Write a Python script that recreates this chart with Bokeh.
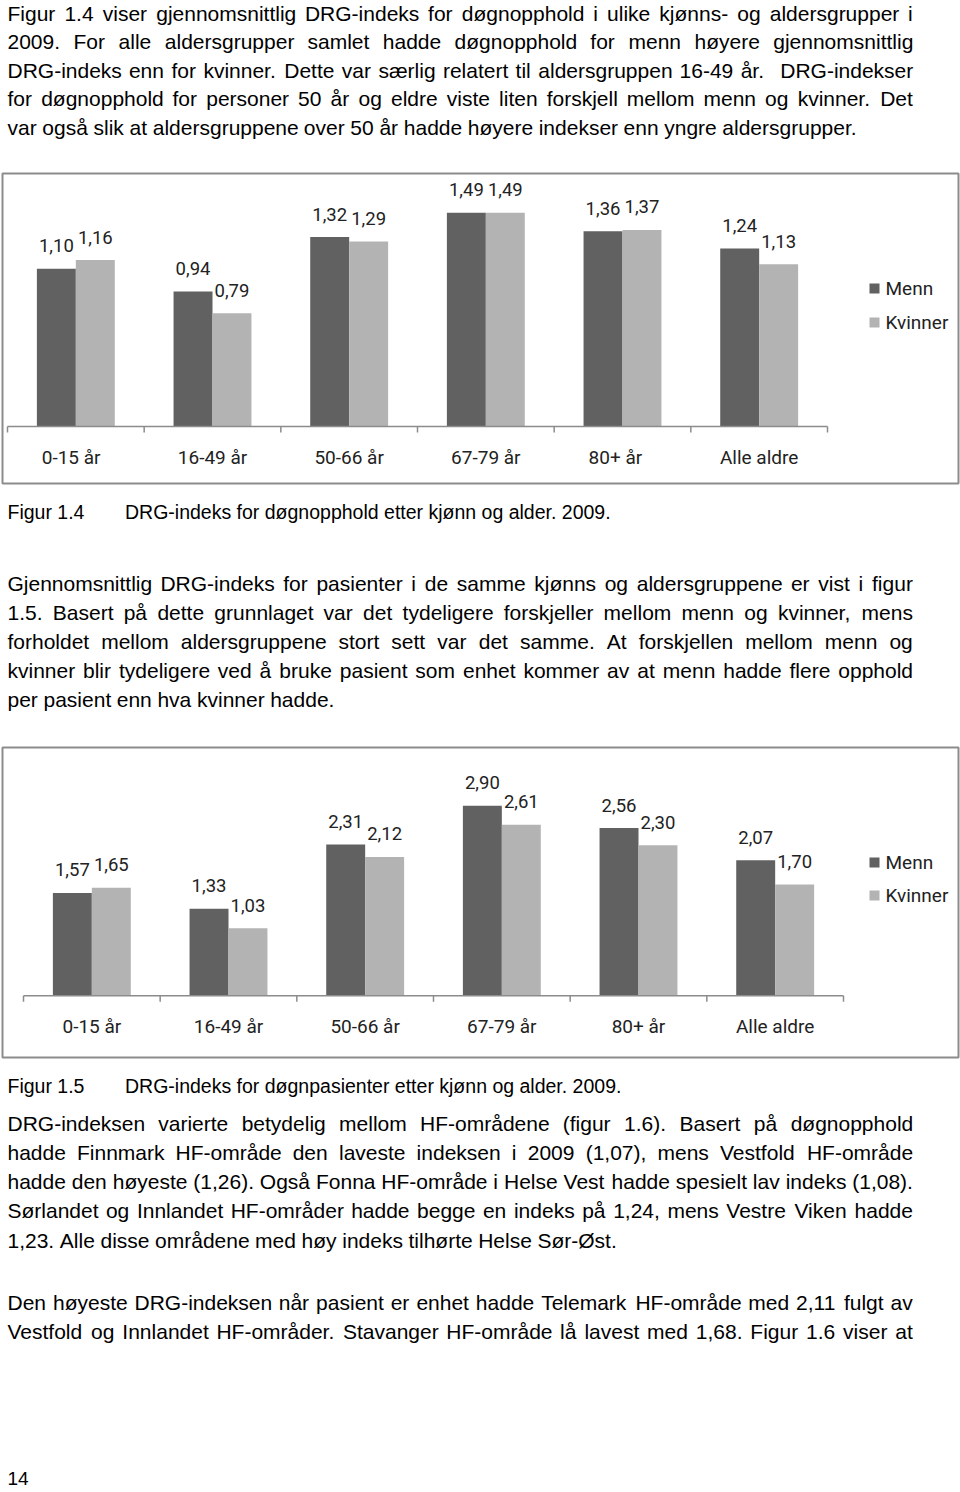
import math
from bokeh.plotting import figure
from bokeh.models import Range1d, ColumnDataSource
from bokeh.layouts import column
from bokeh.core.properties import value
from bokeh.transform import dodge
from bokeh.embed import file_html
from bokeh.resources import INLINE

# ---------------- data ----------------
age_groups_fig14 = ["0-15   år", "16-49 år", "50-66 år", "67-79 år", "80+    år", "Alle aldre"]
menn_fig14 = [1.10, 0.94, 1.32, 1.49, 1.36, 1.24]
kvinner_fig14 = [1.16, 0.79, 1.29, 1.49, 1.37, 1.13]

age_groups_fig15 = ["0-15 år", "16-49 år", "50-66 år", "67-79 år", "80+ år", "Alle aldre"]
menn_fig15 = [1.57, 1.33, 2.31, 2.90, 2.56, 2.07]
kvinner_fig15 = [1.65, 1.03, 2.12, 2.61, 2.30, 1.70]

series_names = ["Menn", "Kvinner"]

para1 = [
    "Figur 1.4 viser gjennomsnittlig DRG-indeks for døgnopphold i ulike kjønns- og aldersgrupper i",
    "2009. For alle aldersgrupper samlet hadde døgnopphold for menn høyere gjennomsnittlig",
    "DRG-indeks enn for kvinner. Dette var særlig relatert til aldersgruppen 16-49 år.  DRG-indekser",
    "for døgnopphold for personer 50 år og eldre viste liten forskjell mellom menn og kvinner. Det",
    "var også slik at aldersgruppene over 50 år hadde høyere indekser enn yngre aldersgrupper.",
]
caption1 = ["Figur 1.4", "DRG-indeks for døgnopphold etter kjønn og alder. 2009."]
para2 = [
    "Gjennomsnittlig DRG-indeks for pasienter i de samme kjønns og aldersgruppene er vist i figur",
    "1.5. Basert på dette grunnlaget var det tydeligere forskjeller mellom menn og kvinner, mens",
    "forholdet mellom aldersgruppene stort sett var det samme. At forskjellen mellom menn og",
    "kvinner blir tydeligere ved å bruke pasient som enhet kommer av at menn hadde flere opphold",
    "per pasient enn hva kvinner hadde.",
]
caption2 = ["Figur 1.5", "DRG-indeks for døgnpasienter etter kjønn og alder. 2009."]
para3 = [
    "DRG-indeksen varierte betydelig mellom HF-områdene (figur 1.6). Basert på døgnopphold",
    "hadde Finnmark HF-område den laveste indeksen i 2009 (1,07), mens Vestfold HF-område",
    "hadde den høyeste (1,26). Også Fonna HF-område i Helse Vest hadde spesielt lav indeks (1,08).",
    "Sørlandet og Innlandet HF-områder hadde begge en indeks på 1,24, mens Vestre Viken hadde",
    "1,23. Alle disse områdene med høy indeks tilhørte Helse Sør-Øst.",
]
para4 = [
    "Den høyeste DRG-indeksen når pasient er enhet hadde Telemark HF-område med 2,11 fulgt av",
    "Vestfold og Innlandet HF-områder. Stavanger HF-område lå lavest med 1,68. Figur 1.6 viser at",
]
page_number = "14"

# ---------------- styles ----------------
MENN_COLOR = "#616161"
KVINNER_COLOR = "#b3b3b3"
FRAME_COLOR = "#8c8c8c"
LABEL_COLOR = "#222222"
CHART_FONT = "Roboto"
BODY_FONT = "Liberation Sans"
LEFT, RIGHT = 5, 914

# Liberation Sans (Arial-compatible) advance widths per 1000 em
ARIAL = {" ": 278, "!": 278, "(": 333, ")": 333, ",": 278, "-": 333, ".": 278, "/": 278, ":": 278,
         "A": 667, "B": 667, "C": 722, "D": 722, "E": 667, "F": 611, "G": 778, "H": 722, "I": 278,
         "J": 500, "K": 667, "L": 556, "M": 833, "N": 722, "O": 778, "P": 667, "Q": 778, "R": 722,
         "S": 667, "T": 611, "U": 722, "V": 667, "W": 944, "X": 667, "Y": 667, "Z": 611,
         "a": 556, "b": 556, "c": 500, "d": 556, "e": 556, "f": 278, "g": 556, "h": 556, "i": 222,
         "j": 222, "k": 500, "l": 222, "m": 833, "n": 556, "o": 556, "p": 556, "q": 556, "r": 333,
         "s": 500, "t": 278, "u": 556, "v": 500, "w": 722, "x": 500, "y": 500, "z": 500,
         "å": 556, "ø": 611, "æ": 889, "Ø": 778, "Å": 667, "Æ": 1000}
for d in "0123456789":
    ARIAL[d] = 556


def tw(s, size):
    return sum(ARIAL.get(c, 556) for c in s) * size / 1000.0


justified_lines = para1[:-1] + para2[:-1] + para3[:-1] + para4
fit = min((RIGHT - LEFT) / tw(l, 1.0) for l in justified_lines)
BODY_SIZE = min(21.0, math.floor(fit * 10) / 10.0)
CAPTION_SIZE = 19.5


def fmt(v):
    return f"{v:.2f}".replace(".", ",")


def text_fig(height):
    p = figure(width=960, height=height, x_range=Range1d(0, 960), y_range=Range1d(height, 0),
               title=None, output_backend="svg", toolbar_location=None,
               x_axis_type=None, y_axis_type=None, min_border=0, outline_line_color=None)
    return p


def add_paragraph(p, lines, baselines, last_justified=False):
    xs, ys, ts = [], [], []
    for k, (line, yb) in enumerate(zip(lines, baselines)):
        words = line.split(" ")
        widths = [tw(w, BODY_SIZE) for w in words]
        is_last = (k == len(lines) - 1) and not last_justified
        if is_last or len(words) == 1:
            gap = ARIAL[" "] * BODY_SIZE / 1000.0
        else:
            gap = (RIGHT - LEFT - sum(widths)) / (len(words) - 1)
        x = LEFT
        for w, wd in zip(words, widths):
            if w:
                xs.append(x)
                ys.append(yb)
                ts.append(w)
            x += wd + gap
    p.text(x=xs, y=ys, text=ts, text_font=value(BODY_FONT), text_font_size=f"{BODY_SIZE}px",
           text_align="left", text_baseline="middle", text_color="#000000")


def add_caption(p, cap, yc):
    p.text(x=[LEFT, 123], y=[yc, yc], text=cap, text_font=value(BODY_FONT),
           text_font_size=f"{CAPTION_SIZE}px", text_align="left", text_baseline="middle",
           text_color="#000000")


def bar_chart(cats, menn, kvinner, height, pad_top, pad_bottom, axis_left, base_from_top, ppu,
              legend_y):
    W = 960
    frame_w = W - 4
    frame_h = height - pad_top - pad_bottom
    n = len(cats)
    cat_px = 820.0 / n
    xr = Range1d(-axis_left / cat_px, (frame_w - axis_left) / cat_px)
    yr = Range1d(-(frame_h - base_from_top) / ppu, base_from_top / ppu)
    p = figure(width=W, height=height, x_range=xr, y_range=yr, title=None,
               output_backend="svg", toolbar_location=None, x_axis_type=None, y_axis_type=None,
               min_border_left=2, min_border_right=2, min_border_top=pad_top,
               min_border_bottom=pad_bottom, outline_line_color=FRAME_COLOR, outline_line_width=2)
    src = ColumnDataSource(dict(
        x=[i + 0.5 for i in range(n)], cat=cats, menn=menn, kvinner=kvinner,
        ml=[fmt(v) for v in menn], kl=[fmt(v) for v in kvinner], zero=[0] * n))
    bw = 0.285
    p.vbar(x=dodge("x", -bw / 2), top="menn", bottom=0, width=bw, source=src,
           fill_color=MENN_COLOR, line_color=None)
    p.vbar(x=dodge("x", bw / 2), top="kvinner", bottom=0, width=bw, source=src,
           fill_color=KVINNER_COLOR, line_color=None)
    # category axis line + ticks
    p.segment(x0=[0], y0=[0], x1=[n], y1=[0], line_color=FRAME_COLOR, line_width=1.5)
    p.segment(x0=list(range(n + 1)), y0=[0] * (n + 1), x1=list(range(n + 1)),
              y1=[-6.0 / ppu] * (n + 1), line_color=FRAME_COLOR, line_width=1.5)
    lab = dict(text_font=value(CHART_FONT), text_color=LABEL_COLOR,
               text_align="center", text_baseline="middle")
    p.text(x=dodge("x", -bw / 2), y="menn", text="ml", source=src, y_offset=-23,
           text_font_size="18.5px", **lab)
    p.text(x=dodge("x", bw / 2), y="kvinner", text="kl", source=src, y_offset=-23,
           text_font_size="18.5px", **lab)
    p.text(x="x", y="zero", text="cat", source=src, y_offset=31, text_font_size="19px", **lab)
    # legend
    lx = xr.start + 872.0 / cat_px
    ly = [yr.end - legend_y[0] / ppu, yr.end - legend_y[1] / ppu]
    p.scatter(x=[lx, lx], y=ly, marker="square", size=10,
              fill_color=[MENN_COLOR, KVINNER_COLOR], line_color=None)
    p.text(x=[lx, lx], y=ly, text=series_names, x_offset=11, text_font=value(CHART_FONT),
           text_font_size="19px", text_color=LABEL_COLOR, text_align="left",
           text_baseline="middle")
    return p


# ---------------- page ----------------
t1 = text_fig(170)
add_paragraph(t1, para1, [13, 41, 70, 98, 127])

c1 = bar_chart(age_groups_fig14, menn_fig14, kvinner_fig14, height=320, pad_top=3, pad_bottom=7,
               axis_left=5, base_from_top=253, ppu=143.5, legend_y=(115, 149))

t2 = text_fig(255)
add_caption(t2, caption1, 21)
add_paragraph(t2, para2, [93, 122, 151, 180, 209])

c2 = bar_chart(age_groups_fig15, menn_fig15, kvinner_fig15, height=317, pad_top=2, pad_bottom=5,
               axis_left=21, base_from_top=248.3, ppu=65.5, legend_y=(115, 148))

t3 = text_fig(430)
add_caption(t3, caption2, 23)
add_paragraph(t3, para3, [61, 90, 119, 148, 178])
add_paragraph(t3, para4, [240, 269], last_justified=True)
t3.text(x=[LEFT], y=[416], text=[page_number], text_font=value(BODY_FONT),
        text_font_size="19px", text_align="left", text_baseline="middle",
        text_color="#000000")

layout = column(t1, c1, t2, c2, t3, spacing=0)

with open("out.html", "w") as f:
    f.write(file_html(layout, INLINE, title="DRG-indeks"))
